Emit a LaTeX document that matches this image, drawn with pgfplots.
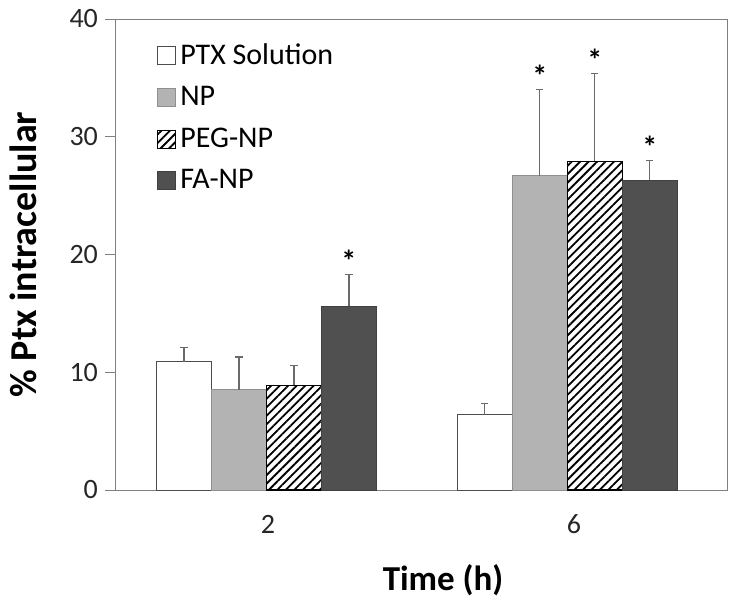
\documentclass[border=0pt]{standalone}
\usepackage{fontspec}
\setmainfont{Carlito}
\usepackage{pgfplots}
\pgfplotsset{compat=1.18}
\usetikzlibrary{patterns.meta}

\definecolor{axgray}{HTML}{808080}
\definecolor{npgray}{HTML}{B3B3B3}
\definecolor{fagray}{HTML}{505050}
\definecolor{errgray}{HTML}{6A6A6A}

\begin{document}
\begin{tikzpicture}
\begin{axis}[
    width=306pt, height=235.5pt,
    scale only axis,
    xmin=-0.5, xmax=1.5,
    ymin=0, ymax=40,
    ytick={0,10,20,30,40},
    xtick={0,1},
    xticklabels={2,6},
    major x tick style={draw=none},
    extra x ticks={-0.5,0.5,1.5},
    extra x tick labels={},
    extra x tick style={major tick length=4pt, tick style={draw=axgray, thin}},
    tick align=outside,
    ytick pos=left,
    xtick pos=bottom,
    major tick length=5pt,
    tick style={axgray, thin},
    axis line style={axgray, thin},
    /pgf/number format/assume math mode=true,
    tick label style={font=\fontsize{14}{16}\selectfont, text=black!85},
    xticklabel style={yshift=-4pt},
    ylabel={\textbf{\% Ptx intracellular}},
    xlabel={\textbf{Time (h)}},
    ylabel style={font=\fontsize{19}{22}\selectfont, at={(axis description cs:-0.150,0.5)}, anchor=center},
    xlabel style={font=\fontsize{17.5}{21}\selectfont, at={(axis description cs:0.536,-0.191)}, anchor=center},
    legend style={at={(0.058,0.965)}, anchor=north west, draw=none, fill=none,
        font=\fontsize{15}{17}\selectfont, row sep=5.5pt, legend cell align=left},
    legend image code/.code={\draw[#1] (0pt,-4.5pt) rectangle (9pt,4.5pt);},
    error bars/y dir=plus,
    error bars/y explicit,
    error bars/error bar style={errgray, line width=0.6pt},
    error bars/error mark options={rotate=90, mark size=1.8pt, errgray, line width=0.6pt},
]
% bars placed at their own x positions (group centre +- bar offsets)
\addplot[ybar, bar width=27.5pt, bar shift=0pt, fill=white, draw=black!70, line width=0.5pt]
    coordinates {(-0.2746,10.9) +- (0,1.2) (0.7084,6.4) +- (0,0.95)};
\addplot[ybar, bar width=27.5pt, bar shift=0pt, fill=npgray, draw=npgray!80!black, line width=0.5pt]
    coordinates {(-0.0949,8.5) +- (0,2.8) (0.8881,26.7) +- (0,7.3)};
\addplot[ybar, bar width=27.5pt, bar shift=0pt, draw=black, line width=0.7pt,
    postaction={pattern={Lines[angle=45, distance=3pt, line width=0.9pt]}}, fill=white]
    coordinates {(0.0849,8.9) +- (0,1.7) (1.0679,27.9) +- (0,7.5)};
\addplot[ybar, bar width=27.5pt, bar shift=0pt, fill=fagray, draw=black!75, line width=0.5pt]
    coordinates {(0.2646,15.6) +- (0,2.7) (1.2476,26.3) +- (0,1.7)};
\legend{PTX Solution, NP, PEG-NP, FA-NP}
% significance stars above error bars
\addplot[forget plot, draw=none, mark=none,
    error bars/y dir=none,
    nodes near coords={\textbf{*}},
    every node near coord/.style={anchor=south, font=\fontsize{15}{17}\selectfont, yshift=-2pt}]
    coordinates {(0.2646,18.3) (0.8881,34.0) (1.0679,35.4) (1.2476,28.0)};
\end{axis}
\pgfresetboundingbox
\path (current axis.south west) ++(-57.5pt,-58pt) coordinate (bl);
\path (current axis.north east) ++(1pt,9.5pt) coordinate (tr);
\useasboundingbox (bl) rectangle (tr);
\end{tikzpicture}
\end{document}
